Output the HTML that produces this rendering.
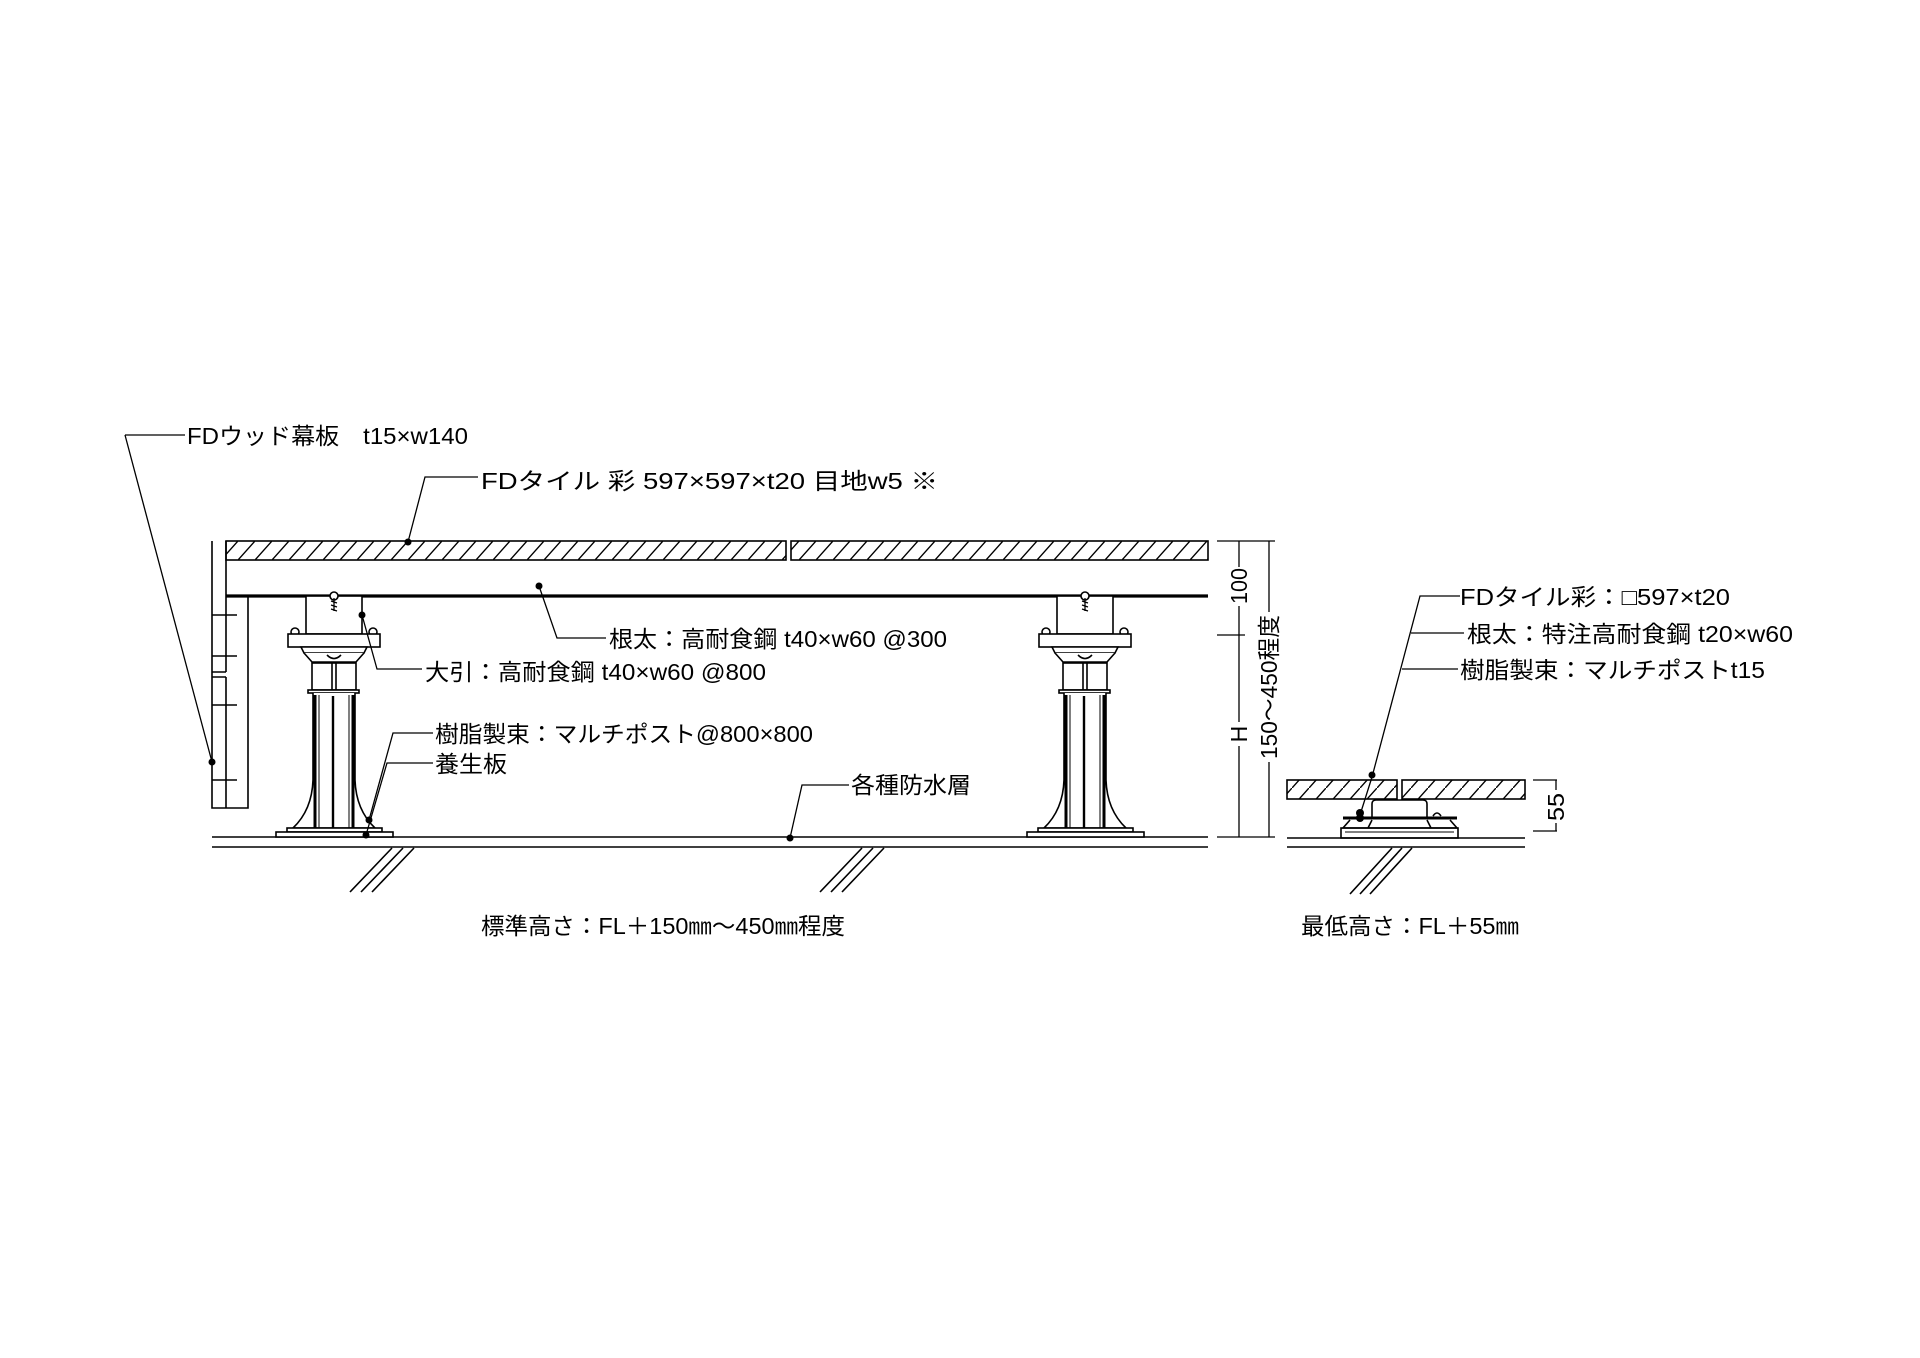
<!DOCTYPE html>
<html><head><meta charset="utf-8"><style>
html,body{margin:0;padding:0;background:#fff}
svg{display:block}
text{font-family:"Liberation Sans","Noto Sans CJK JP",sans-serif;font-size:23px;fill:#000}
</style></head><body>
<svg width="1920" height="1358" viewBox="0 0 1920 1358" xmlns="http://www.w3.org/2000/svg">
<defs>
<pattern id="h" patternUnits="userSpaceOnUse" width="17" height="19" x="0" y="541">
<line x1="0" y1="19" x2="17" y2="0" stroke="#000" stroke-width="1.4"/>
</pattern>
<g id="ped" fill="#fff" stroke="#000" stroke-width="1.6">
<rect x="-28" y="596" width="56" height="38"/>
<circle cx="-39" cy="632" r="4"/><circle cx="39" cy="632" r="4"/>
<rect x="-46" y="634" width="92" height="13"/>
<path d="M-33 647 H33 L30 653 H-30 Z"/>
<path d="M-30 653 L-22 662 H22 L30 653"/>
<path d="M-7 655 Q0 662 7 655" fill="none"/>
<rect x="-22" y="663" width="44" height="27"/>
<line x1="-2" y1="663" x2="-2" y2="690"/><line x1="2" y1="663" x2="2" y2="690"/>
<rect x="-26" y="690" width="51" height="3"/>
<path d="M-21 693 V780 Q-22 810 -41 828 H41 Q22 810 21 780 V693"/>
<line x1="-19" y1="695" x2="-19" y2="828" stroke-width="3"/>
<line x1="19" y1="695" x2="19" y2="828" stroke-width="3"/>
<line x1="-1" y1="696" x2="-1" y2="828" stroke-width="2.4"/>
<line x1="-15" y1="695" x2="-15" y2="828" stroke-width="1"/>
<line x1="15" y1="695" x2="15" y2="828" stroke-width="1"/>
<rect x="-47" y="828" width="95" height="4"/>
<rect x="-58" y="832" width="117" height="5"/>
<circle cx="0" cy="596" r="4"/>
<path d="M0 598 V611 M-3 601 L3 603 M-3 605 L3 607 M-3 609 L3 611" fill="none" stroke-width="1.3"/>
</g>
</defs>
<g fill="none" stroke="#000" stroke-width="1.6">
<rect x="226" y="541" width="560" height="19" fill="url(#h)"/>
<rect x="791" y="541" width="417" height="19" fill="url(#h)"/>
<path d="M212 541 V808 H248 V596 M226 541 V672 M212 672 H226 M212 677 H226 M226 677 V808"/>
<path d="M212 615 H237 M212 656 H237 M212 705 H237 M212 780 H237"/>
<line x1="226" y1="596" x2="1208" y2="596" stroke-width="3.2"/>
<line x1="212" y1="837" x2="1208" y2="837"/>
<line x1="212" y1="847" x2="1208" y2="847"/>
<path d="M350 892 L392 848 M361 892 L403 848 M372 892 L414 848"/>
<path d="M820 892 L862 848 M831 892 L873 848 M842 892 L884 848"/>
</g>
<use href="#ped" x="334"/>
<use href="#ped" x="1085"/>
<g fill="none" stroke="#000" stroke-width="1.3">
<path d="M125 435 H185 M125 435 L212 762"/>
<path d="M408 542 L425 477 H478"/>
<path d="M539 586 L557 638 H606"/>
<path d="M362 615 L377 669 H422"/>
<path d="M369 820 L393 733 H433"/>
<path d="M366 835 L387 763 H433"/>
<path d="M790 838 L802 785 H849"/>
<path d="M1217 541 H1275 M1217 635 H1245 M1217 837 H1275"/>
<path d="M1239 541 V567 M1239 606 V722 M1239 746 V837"/>
<path d="M1269 541 V612 M1269 762 V837"/>
<path d="M1533 780 H1557 M1533 831 H1557 M1556 780 V790 M1556 823 V831"/>
<path d="M1372 777 L1420 596 H1460 M1411 633 H1464 M1402 669 H1458 M1372 777 L1360 815"/>
</g>
<g fill="#000">
<circle cx="212" cy="762" r="3.5"/><circle cx="408" cy="542" r="3.5"/><circle cx="539" cy="586" r="3.5"/>
<circle cx="362" cy="615" r="3.5"/><circle cx="369" cy="820" r="3.5"/><circle cx="366" cy="835" r="3.5"/>
<circle cx="790" cy="838" r="3.5"/><circle cx="1372" cy="775" r="3.5"/><circle cx="1360" cy="813" r="4"/><circle cx="1360" cy="818" r="4"/>
</g>
<g fill="none" stroke="#000" stroke-width="1.6">
<rect x="1287" y="780" width="110" height="19" fill="url(#h)"/>
<rect x="1402" y="780" width="123" height="19" fill="url(#h)"/>
<path d="M1372 817 V804 Q1372 800 1376 800 H1423 Q1427 800 1427 804 V817"/>
<line x1="1343" y1="818" x2="1457" y2="818" stroke-width="3"/>
<path d="M1433 816 Q1437 810 1441 816"/>
<path d="M1350 820 L1343 828 H1457 L1450 820 M1372 820 L1368 828 M1427 820 L1431 828"/>
<rect x="1341" y="828" width="117" height="10"/>
<line x1="1345" y1="832" x2="1454" y2="832" stroke-width="1"/>
<line x1="1287" y1="838" x2="1525" y2="838"/>
<line x1="1287" y1="847" x2="1525" y2="847"/>
<path d="M1350 894 L1392 848 M1360 894 L1402 848 M1370 894 L1412 848"/>
</g>
<text x="187" y="444" textLength="281" lengthAdjust="spacingAndGlyphs">FDウッド幕板　t15×w140</text>
<text x="481" y="489" textLength="457" lengthAdjust="spacingAndGlyphs">FDタイル 彩 597×597×t20 目地w5 ※</text>
<text x="609" y="647" textLength="338" lengthAdjust="spacingAndGlyphs">根太：高耐食鋼 t40×w60 @300</text>
<text x="425" y="680" textLength="341" lengthAdjust="spacingAndGlyphs">大引：高耐食鋼 t40×w60 @800</text>
<text x="435" y="742" textLength="378" lengthAdjust="spacingAndGlyphs">樹脂製束：マルチポスト@800×800</text>
<text x="435" y="772" textLength="72" lengthAdjust="spacingAndGlyphs">養生板</text>
<text x="851" y="793" textLength="120" lengthAdjust="spacingAndGlyphs">各種防水層</text>
<text x="481" y="934" textLength="364" lengthAdjust="spacingAndGlyphs">標準高さ：FL＋150㎜～450㎜程度</text>
<text x="1301" y="934" textLength="218" lengthAdjust="spacingAndGlyphs">最低高さ：FL＋55㎜</text>
<text x="1460" y="605" textLength="270" lengthAdjust="spacingAndGlyphs">FDタイル彩：□597×t20</text>
<text x="1467" y="642" textLength="326" lengthAdjust="spacingAndGlyphs">根太：特注高耐食鋼 t20×w60</text>
<text x="1460" y="678" textLength="305" lengthAdjust="spacingAndGlyphs">樹脂製束：マルチポストt15</text>
<text transform="translate(1247,586) rotate(-90)" text-anchor="middle" textLength="36" lengthAdjust="spacingAndGlyphs">100</text>
<text transform="translate(1247,734) rotate(-90)" text-anchor="middle">H</text>
<text transform="translate(1277,687) rotate(-90)" text-anchor="middle" textLength="144" lengthAdjust="spacingAndGlyphs">150～450程度</text>
<text transform="translate(1564,807) rotate(-90)" text-anchor="middle" textLength="28" lengthAdjust="spacingAndGlyphs">55</text>
</svg>
</body></html>
